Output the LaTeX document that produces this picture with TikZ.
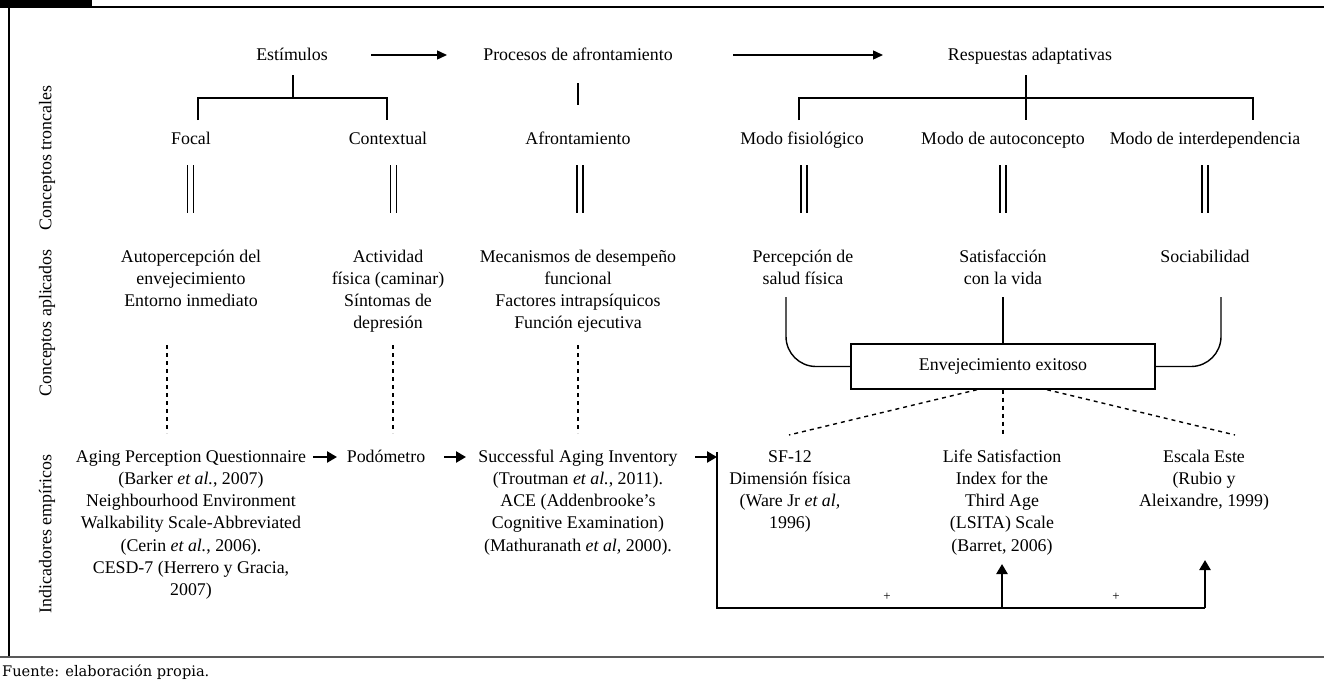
\documentclass[tikz,border=0pt]{standalone}
\usepackage{fontspec}
\setmainfont{Liberation Serif}
\newfontfamily\notefont{DejaVu Serif}
\usetikzlibrary{arrows.meta,positioning}

\begin{document}
\begin{tikzpicture}[x=1pt,y=-1pt]
\tikzstyle{txt}=[font=\fontsize{17.85}{22.3}\selectfont, align=center, inner sep=0pt, anchor=base]
\tikzstyle{side}=[font=\fontsize{17.85}{22.3}\selectfont, rotate=90, inner sep=0pt]
\tikzstyle{link}=[line width=1.4pt]
\tikzstyle{flow}=[line width=1.4pt, -{Triangle[length=10pt,width=9pt]}]
\tikzstyle{push}=[line width=2.4pt, -{Triangle[length=10pt,width=11pt]}]
\tikzstyle{dots}=[line width=1.4pt, dash pattern=on 4pt off 4pt]
\tikzstyle{twin}=[double, double distance=4.5pt, line width=1.3pt]
\tikzstyle{goal}=[rectangle, draw, line width=1.4pt, minimum width=304pt, minimum height=45pt, font=\fontsize{17.85}{22.3}\selectfont]
  \useasboundingbox (0,0) rectangle (1324,685);
  % frame
  \fill (0,0) rectangle (92,7);
  \draw[line width=2.2pt] (0,7) -- (1324,7);
  \draw[line width=2pt] (8.5,7) -- (8.5,657);
  \draw[line width=2pt, black!65] (0,657) -- (1324,657);
  \node[anchor=west, inner sep=0pt, font=\notefont\fontsize{14.6}{16}\selectfont] (src) at (2,672) {Fuente: elaboración propia.};
  % side labels
  \node[side] (lt) at (47,158) {Conceptos troncales};
  \node[side] (la) at (47,323) {Conceptos aplicados};
  \node[side] (li) at (47,534) {Indicadores empíricos};
  % top row
  \node[txt] (stim) at (292,60) {Estímulos};
  \node[txt] (proc) at (578,60) {Procesos de afrontamiento};
  \node[txt] (resp) at (1030,60) {Respuestas adaptativas};
  \coordinate (s1) at (371,55);
  \coordinate (s2) at (447,55);
  \coordinate (p1) at (733,55);
  \coordinate (p2) at (883,55);
  \draw[flow] (s1) -- (s2);
  \draw[flow] (p1) -- (p2);
  % core concepts
  \node[txt] (focal) at (191,144) {Focal};
  \node[txt] (ctx) at (388,144) {Contextual};
  \node[txt] (afr) at (578,144) {Afrontamiento};
  \node[txt] (fis) at (802,144) {Modo fisiológico};
  \node[txt] (auto) at (1003,144) {Modo de autoconcepto};
  \node[txt] (inter) at (1205,144) {Modo de interdependencia};
  \draw[link] (293,75) -- (293,98);
  \draw[link] (198,120) -- (198,98) -- (387,98) -- (387,120);
  \draw[link] (578,83) -- (578,105);
  \draw[link] (799,120) -- (799,98) -- (1253,98) -- (1253,120);
  \draw[link] (1026,75) -- (1026,120);
  \foreach \x in {190.5,393.5,580,804,1003,1205}
    \draw[twin] (\x,165) -- (\x,213);
  % applied concepts (base = last line)
  \node[txt] (autop) at (191,306.6) {Autopercepción del\\envejecimiento\\Entorno inmediato};
  \node[txt] (activ) at (388,328.9) {Actividad\\física (caminar)\\Síntomas de\\depresión};
  \node[txt] (mec) at (578,328.9) {Mecanismos de desempeño\\funcional\\Factores intrapsíquicos\\Función ejecutiva};
  \node[txt] (perc) at (803,284.3) {Percepción de\\salud física};
  \node[txt] (satis) at (1003,284.3) {Satisfacción\\con la vida};
  \node[txt] (soc) at (1205,262) {Sociabilidad};
  \foreach \x in {167,393,578}
    \draw[dots] (\x,345) -- (\x,433);
  % successful ageing
  \node[goal] (exito) at (1003,366.5) {Envejecimiento exitoso};
  \draw[link, rounded corners=30pt] (786,297) |- (exito.west);
  \draw[link, rounded corners=30pt] (1221,297) |- (exito.east);
  \draw[link] (1003,297) -- (exito.north);
  \coordinate (e1) at (789,435);
  \coordinate (e2) at (1003,435);
  \coordinate (e3) at (1235,435);
  \draw[dots] ([xshift=-26pt]exito.south) -- (e1);
  \draw[dots] (exito.south) -- (e2);
  \draw[dots] ([xshift=44pt]exito.south) -- (e3);
  % empirical indicators (base = last line)
  \node[txt] (aging) at (191,595.8) {Aging Perception Questionnaire\\(Barker \textit{et al.}, 2007)\\Neighbourhood Environment\\Walkability Scale-Abbreviated\\(Cerin \textit{et al.}, 2006).\\CESD-7 (Herrero y Gracia,\\2007)};
  \node[txt] (podo) at (386,462) {Podómetro};
  \node[txt] (sai) at (578,551.2) {Successful Aging Inventory\\(Troutman \textit{et al.}, 2011).\\ACE (Addenbrooke’s\\Cognitive Examination)\\(Mathuranath \textit{et al,} 2000).};
  \node[txt] (sf) at (790,528.9) {SF-12\\Dimensión física\\(Ware Jr \textit{et al,}\\1996)};
  \node[txt] (lsi) at (1002,551.2) {Life Satisfaction\\Index for the\\Third Age\\(LSITA) Scale\\(Barret, 2006)};
  \node[txt] (este) at (1204,506.6) {Escala Este\\(Rubio y\\Aleixandre, 1999)};
  \coordinate (q1) at (313,457);
  \coordinate (q2) at (337,457);
  \coordinate (q3) at (444,457);
  \coordinate (q4) at (466,457);
  \coordinate (q5) at (695,457);
  \coordinate (q6) at (717,457);
  \draw[push] (q1) -- (q2);
  \draw[push] (q3) -- (q4);
  \draw[push] (q5) -- (q6);
  \coordinate (b0) at (717,452);
  \coordinate (b1) at (1002,608);
  \coordinate (b2) at (1205,608);
  \draw[line width=2.4pt] (b0) |- (b2);
  \draw[push] (b1) -- (1002,564);
  \draw[push] (b2) -- (1205,560);
  \node[font=\fontsize{13}{14}\selectfont, inner sep=0pt] (plus1) at (887,597) {+};
  \node[font=\fontsize{13}{14}\selectfont, inner sep=0pt] (plus2) at (1116,597) {+};
\end{tikzpicture}
\end{document}
